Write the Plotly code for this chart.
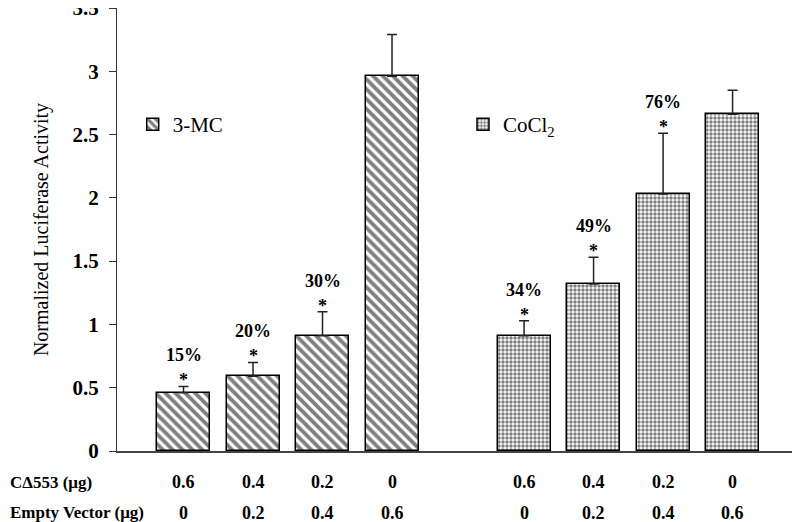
import plotly.graph_objects as go

# ---- data ----
mc_values = [0.46, 0.59, 0.91, 2.96]
mc_errors = [0.05, 0.11, 0.19, 0.33]
mc_percent = ["15%", "20%", "30%", ""]

co_values = [0.91, 1.32, 2.03, 2.66]
co_errors = [0.12, 0.21, 0.48, 0.19]
co_percent = ["34%", "49%", "76%", ""]

cdelta_labels = ["0.6", "0.4", "0.2", "0"]
empty_labels = ["0", "0.2", "0.4", "0.6"]
row_titles = ["C\u0394553 (\u03bcg)", "Empty Vector (\u03bcg)"]

y_tick_values = [0, 0.5, 1, 1.5, 2, 2.5, 3, 3.5]
y_tick_labels = ["0", "0.5", "1", "1.5", "2", "2.5", "3", "3.5"]

# ---- layout helpers ----
GROUP_OFFSET = 4.9
mc_x = [i for i in range(len(mc_values))]
co_x = [i + GROUP_OFFSET for i in range(len(co_values))]

SERIF = "Liberation Serif, Times New Roman, serif"

fig = go.Figure()

fig.add_trace(go.Bar(
    x=mc_x, y=mc_values, name="3-MC", width=0.763,
    marker=dict(color="white", line=dict(color="black", width=1.5),
                pattern=dict(shape="\\", fgcolor="black", bgcolor="white",
                             size=7, solidity=0.55)),
    error_y=dict(type="data", symmetric=False, array=mc_errors,
                 arrayminus=[0] * len(mc_errors), color="#222222",
                 thickness=1.5, width=5),
    legend="legend",
))
fig.add_trace(go.Bar(
    x=co_x, y=co_values, name="CoCl<sub>2</sub>", width=0.763,
    marker=dict(color="white", line=dict(color="black", width=1.5),
                pattern=dict(shape=".", fgcolor="black", bgcolor="white",
                             size=4, solidity=0.6)),
    error_y=dict(type="data", symmetric=False, array=co_errors,
                 arrayminus=[0] * len(co_errors), color="#222222",
                 thickness=1.5, width=5),
    legend="legend2",
))

annotations = []
for xs, vals, errs, pcts in [(mc_x, mc_values, mc_errors, mc_percent),
                             (co_x, co_values, co_errors, co_percent)]:
    for x, v, e, p in zip(xs, vals, errs, pcts):
        if not p:
            continue
        top = v + e
        annotations.append(dict(x=x, y=top, xref="x", yref="y", text="*",
                                showarrow=False, yanchor="middle", yshift=6,
                                font=dict(family=SERIF, size=18, color="black", weight="bold")))
        annotations.append(dict(x=x, y=top, xref="x", yref="y", text=p,
                                showarrow=False, yanchor="middle", yshift=31,
                                font=dict(family=SERIF, size=18, color="black", weight="bold")))

# bottom rows
row_y = [-0.07, -0.1399]
for labels_row, ry in zip([cdelta_labels, empty_labels], row_y):
    for x, lab in zip(mc_x + co_x, labels_row + labels_row):
        annotations.append(dict(x=x, y=ry, xref="x", yref="paper", text=lab,
                                showarrow=False, yanchor="middle",
                                font=dict(family=SERIF, size=18, color="black", weight="bold")))
for title, ry in zip(row_titles, row_y):
    annotations.append(dict(x=-0.1596, y=ry, xref="paper", yref="paper", text=title,
                            showarrow=False, xanchor="left", yanchor="middle",
                            font=dict(family=SERIF, size=17, color="black", weight="bold")))

fig.update_layout(
    width=792, height=514,
    margin=dict(l=109, r=0, t=0, b=71, autoexpand=False),
    paper_bgcolor="white", plot_bgcolor="white",
    bargap=0,
    showlegend=True,
    legend=dict(x=0.023, y=0.737, xanchor="left", yanchor="middle",
                font=dict(family=SERIF, size=21, color="black"),
                bgcolor="rgba(0,0,0,0)", itemwidth=30),
    legend2=dict(x=0.5066, y=0.737, xanchor="left", yanchor="middle",
                 font=dict(family=SERIF, size=21, color="black"),
                 bgcolor="rgba(0,0,0,0)", itemwidth=30),
    xaxis=dict(range=[-0.957, 8.87], showline=True, linecolor="#444444", linewidth=1.5,
               showticklabels=False, ticks="", showgrid=False, zeroline=False),
    yaxis=dict(range=[0, 3.5], tickvals=y_tick_values, ticktext=y_tick_labels,
               showline=True, linecolor="#333333", linewidth=1,
               ticks="outside", ticklen=7, tickcolor="#333333", showgrid=False, zeroline=False,
               tickfont=dict(family=SERIF, size=21, color="black", weight="bold"),
               ticklabelstandoff=6, automargin=False, ticklabeloverflow="allow",
               title=dict(text="Normalized Luciferase Activity", standoff=18,
                          font=dict(family=SERIF, size=20, color="black"))),
    annotations=annotations,
)

fig.write_html("out.html")
